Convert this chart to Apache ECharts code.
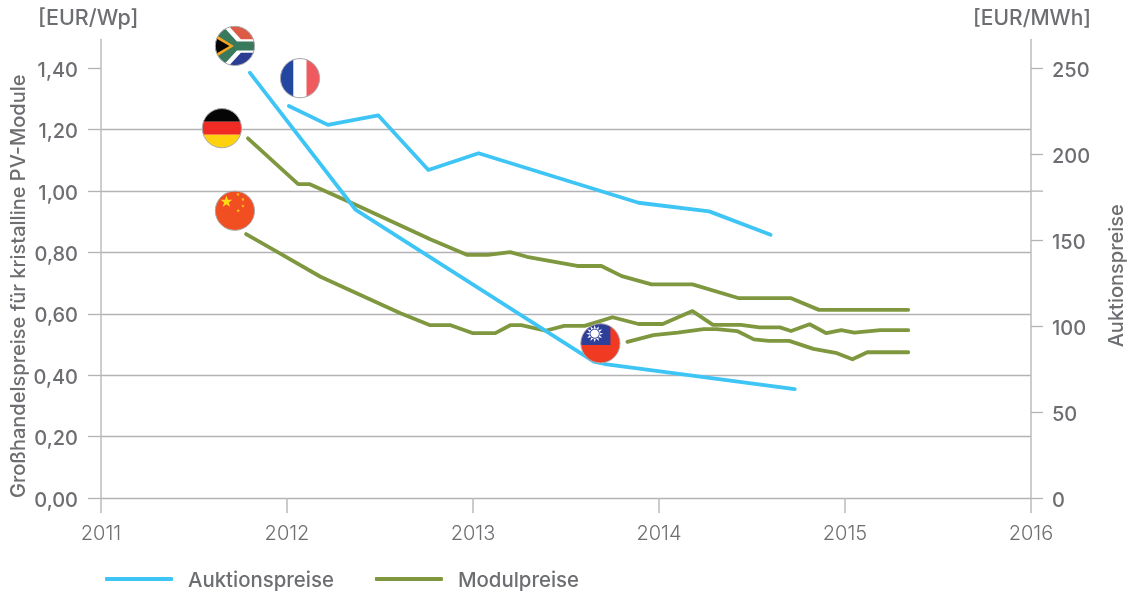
<!DOCTYPE html>
<html>
<head>
<meta charset="utf-8">
<style>html,body{margin:0;padding:0;background:#fff}#c{width:1127px;height:593px}</style>
<script src="https://cdn.jsdelivr.net/npm/echarts@6/dist/echarts.min.js"></script>
</head>
<body>
<div id="c"></div>
<script>
var years = [2011, 2012, 2013, 2014, 2015, 2016];
var leftTicks = [0, 0.2, 0.4, 0.6, 0.8, 1.0, 1.2, 1.4];
var rightTicks = [0, 50, 100, 150, 200, 250];

var auctionSouthAfrica = [[2011.80,247.5],[2012.37,167.6],[2013.65,79.4],[2013.72,77.7],[2014.73,63.4]];
var auctionFrance = [[2012.01,228.1],[2012.22,217.1],[2012.49,222.7],[2012.76,190.9],[2013.03,200.6],[2013.89,171.8],[2014.27,166.8],[2014.60,153.2]];
var moduleGermany = [[2011.79,1.172],[2012.06,1.023],[2012.12,1.023],[2012.36,0.958],[2012.77,0.843],[2012.97,0.792],[2013.08,0.792],[2013.20,0.801],[2013.29,0.786],[2013.56,0.756],[2013.69,0.756],[2013.80,0.723],[2013.96,0.696],[2014.18,0.696],[2014.43,0.651],[2014.71,0.651],[2014.86,0.613],[2015.34,0.613]];
var moduleChina = [[2011.78,0.860],[2011.95,0.801],[2012.18,0.721],[2012.61,0.602],[2012.77,0.563],[2012.88,0.563],[2013.00,0.537],[2013.12,0.537],[2013.20,0.563],[2013.26,0.563],[2013.39,0.545],[2013.49,0.561],[2013.60,0.561],[2013.75,0.589],[2013.89,0.567],[2014.02,0.567],[2014.18,0.609],[2014.29,0.564],[2014.44,0.564],[2014.54,0.556],[2014.65,0.556],[2014.71,0.544],[2014.81,0.566],[2014.90,0.537],[2014.98,0.547],[2015.05,0.539],[2015.19,0.547],[2015.34,0.547]];
var moduleTaiwan = [[2013.83,0.509],[2013.97,0.531],[2014.10,0.539],[2014.24,0.550],[2014.31,0.550],[2014.42,0.544],[2014.51,0.517],[2014.59,0.512],[2014.70,0.512],[2014.83,0.486],[2014.95,0.473],[2015.04,0.452],[2015.12,0.475],[2015.34,0.475]];

var flagNames = ['za', 'fr', 'de', 'cn', 'tw'];
var flagPositions = [[2011.72,1.473],[2012.07,1.368],[2011.65,1.205],[2011.72,0.936],[2013.685,0.504]];
var extraTick = [[2016, 1.0]];

var BLUE = '#3fc5f5', GREEN = '#7f983f', GRID = '#b3b3b6', AXIS = '#bcbcc0', TEXT = '#6d6e71';
var FONT = 'Inter';

function rect(x, y, w, h, fill) { return {type:'rect', shape:{x:x,y:y,width:w,height:h}, style:{fill:fill}}; }
function poly(pts, fill) { return {type:'polygon', shape:{points:pts}, style:{fill:fill}}; }
function star(cx, cy, R, r, n, fill, rot) {
  var pts = [];
  for (var i = 0; i < n * 2; i++) {
    var a = (rot || -Math.PI / 2) + i * Math.PI / n, q = i % 2 ? r : R;
    pts.push([cx + q * Math.cos(a), cy + q * Math.sin(a)]);
  }
  return poly(pts, fill);
}
function flagParts(name) {
  if (name === 'de') return [rect(-21,-21,42,14.5,'#050505'), rect(-21,-6.5,42,13,'#ef2b24'), rect(-21,6.5,42,15,'#ffd20f')];
  if (name === 'fr') return [rect(-21,-21,14.5,42,'#2346a0'), rect(-6.5,-21,13,42,'#ffffff'), rect(6.5,-21,15,42,'#ef5a5f')];
  if (name === 'cn') return [rect(-21,-21,42,42,'#f14e21'), star(-8.5,-9,6.2,2.4,5,'#ffdd15'),
    star(3,-16.3,1.9,0.8,5,'#ffc915'), star(8,-11.3,1.9,0.8,5,'#ffc915'), star(8,-4.7,1.9,0.8,5,'#ffc915'), star(3.3,0,1.9,0.8,5,'#ffc915')];
  if (name === 'tw') return [rect(-21,-21,42,42,'#f03a22'), rect(-21,-21,31,22.7,'#2e3f9a'),
    star(-5.7,-9.7,8.6,4.8,12,'#ffffff'), {type:'circle', shape:{cx:-5.7,cy:-9.7,r:5}, style:{fill:'#2e3f9a'}}, {type:'circle', shape:{cx:-5.7,cy:-9.7,r:4.2}, style:{fill:'#ffffff'}}];
  return [rect(-21,-21,42,21,'#dd5a44'), rect(-21,0,42,21,'#2b3e93'),
    poly([[-21,-22],[-8,-22],[6,-6.8],[21,-6.8],[21,6.8],[6,6.8],[-8,22],[-21,22]],'#ffffff'),
    poly([[-22,-18],[-14,-22],[2,-4.5],[21,-4.5],[21,4.5],[2,4.5],[-14,22],[-22,18]],'#39795c'),
    poly([[-22,-13],[-1,0],[-22,13]],'#f6a31f'),
    poly([[-22,-9.5],[-5.5,0],[-22,9.5]],'#050505')];
}
function renderFlag(params, api) {
  var c = api.coord([api.value(0), api.value(1)]);
  return {type:'group', x:c[0], y:c[1], children:[
    {type:'group', clipPath:{type:'circle', shape:{cx:0,cy:0,r:19.6}}, children:flagParts(flagNames[params.dataIndex])},
    {type:'circle', shape:{cx:0,cy:0,r:19.6}, style:{fill:'none', stroke:'#a9a9ac', lineWidth:1}}
  ]};
}
function renderExtraTick(params, api) {
  var c = api.coord([api.value(0), api.value(1)]);
  return {type:'line', shape:{x1:c[0],y1:c[1],x2:c[0]+12,y2:c[1]}, style:{stroke:GRID, lineWidth:1.3}};
}
function lineSeries(name, data, color, axis) {
  return {name:name, type:'line', data:data, yAxisIndex:axis, showSymbol:false, symbol:'none', silent:true, animation:false,
    lineStyle:{color:color, width:3.8, cap:'round', join:'round'}, itemStyle:{color:color}};
}
var labelRich = {a:{fontFamily:FONT, fontSize:20, fontWeight:500, color:TEXT, padding:[5,0,0,0]}};

var chart = echarts.init(document.getElementById('c'), null, {renderer:'canvas'});
chart.setOption({
  animation:false,
  backgroundColor:'#ffffff',
  title:[
    {text:'[EUR/Wp]', left:33, top:3, textStyle:{fontFamily:FONT, fontSize:21.5, fontWeight:500, color:TEXT}},
    {text:'[EUR/MWh]', right:31, top:3, textStyle:{fontFamily:FONT, fontSize:21, fontWeight:500, color:TEXT}}
  ],
  grid:{left:101, right:96, top:39.5, bottom:95, outerBoundsMode:'none'},
  legend:{left:105, top:571, itemWidth:68, itemHeight:4, itemGap:41, icon:'roundRect', padding:0,
    data:['Auktionspreise','Modulpreise'], formatter:'{t|{name}}',
    textStyle:{fontFamily:FONT, fontSize:20.4, fontWeight:500, color:TEXT,
      rich:{t:{fontFamily:FONT, fontSize:20.4, fontWeight:500, color:TEXT, padding:[4,0,0,10]}}}},
  xAxis:{type:'value', min:2011, max:2016, interval:1, splitLine:{show:false},
    axisLine:{show:true, onZero:false, lineStyle:{color:GRID, width:1.3}},
    axisTick:{show:true, length:15, lineStyle:{color:AXIS, width:1.5}},
    axisLabel:{margin:26, fontFamily:FONT, fontSize:20, fontWeight:300, color:TEXT, formatter:function(v){return String(v);},
      hideOverlap:false, showMinLabel:true, showMaxLabel:true}},
  yAxis:[
    {type:'value', min:0, max:1.494, position:'left', interval:0.2,
      name:'Großhandelspreise für kristalline PV-Module', nameLocation:'middle', nameGap:72, nameRotate:90, nameMoveOverlap:false,
      nameTextStyle:{fontFamily:FONT, fontSize:20, fontWeight:500, color:TEXT, padding:[0,35,0,0]},
      axisLine:{show:true, lineStyle:{color:AXIS, width:1.5}},
      axisTick:{show:true, length:13, customValues:leftTicks, lineStyle:{color:GRID, width:1.3}},
      splitLine:{show:true, showMinLine:false, showMaxLine:false, lineStyle:{color:GRID, width:1.3}},
      axisLabel:{margin:23, customValues:leftTicks, rich:labelRich,
        formatter:function(v){return '{a|' + v.toFixed(2).replace('.', ',') + '}';}}},
    {type:'value', min:0, max:266.8, position:'right', interval:50,
      name:'Auktionspreise', nameLocation:'middle', nameGap:76, nameRotate:90, nameMoveOverlap:false,
      nameTextStyle:{fontFamily:FONT, fontSize:20, fontWeight:500, color:TEXT, padding:[0,14,0,0]},
      axisLine:{show:true, lineStyle:{color:AXIS, width:1.5}},
      axisTick:{show:true, length:12, customValues:rightTicks, lineStyle:{color:GRID, width:1.3}},
      splitLine:{show:false},
      axisLabel:{margin:21, customValues:rightTicks, rich:labelRich,
        formatter:function(v){return '{a|' + v + '}';}}}
  ],
  series:[
    lineSeries('Modulpreise', moduleGermany, GREEN, 0),
    lineSeries('Modulpreise', moduleChina, GREEN, 0),
    lineSeries('Modulpreise', moduleTaiwan, GREEN, 0),
    lineSeries('Auktionspreise', auctionSouthAfrica, BLUE, 1),
    lineSeries('Auktionspreise', auctionFrance, BLUE, 1),
    {name:'Flaggen', type:'custom', data:flagPositions, renderItem:renderFlag, clip:false, silent:true, z:10, encode:{x:0,y:1}, animation:false},
    {name:'Tick', type:'custom', data:extraTick, renderItem:renderExtraTick, clip:false, silent:true, z:1, encode:{x:0,y:1}, animation:false}
  ]
});
</script>
</body>
</html>
